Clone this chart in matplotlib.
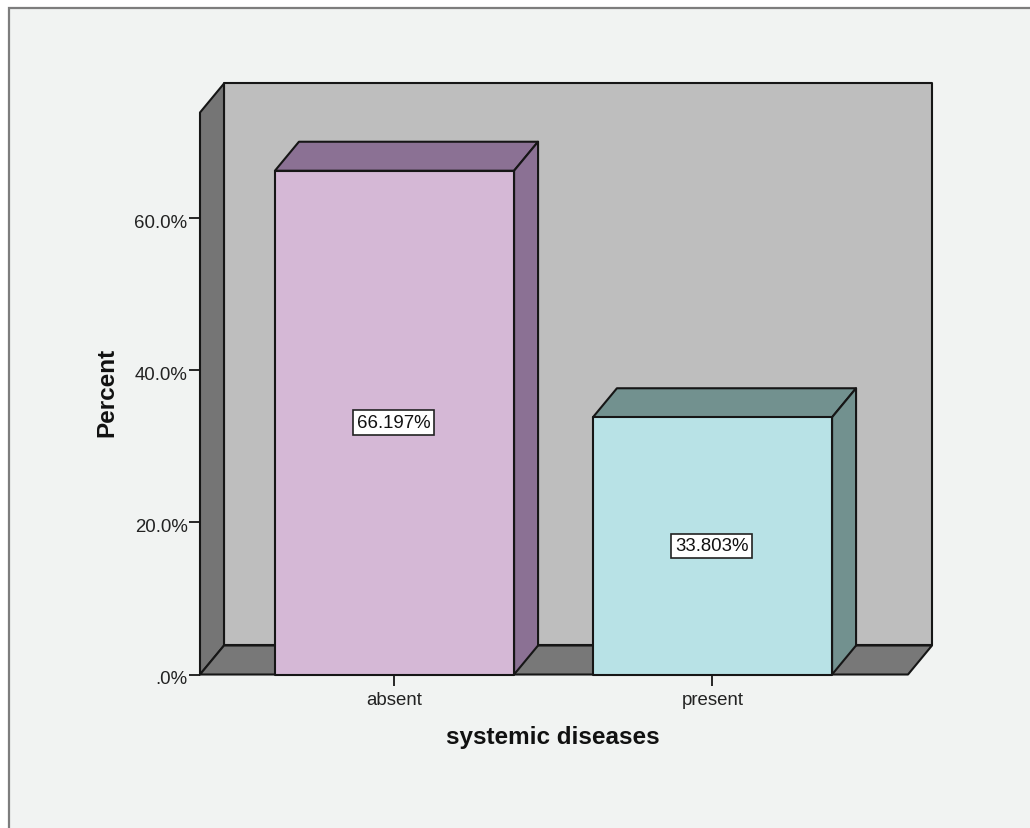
import matplotlib
matplotlib.use("Agg")
import matplotlib.pyplot as plt
from matplotlib.patches import Polygon, Rectangle
from matplotlib.transforms import ScaledTranslation

categories = ["absent", "present"]
percents = [66.197, 33.803]
front_colors = ["#d5b8d6", "#b8e2e6"]
top_colors = ["#8b7194", "#72918f"]
y_ticks = [0, 20, 40, 60]
y_tick_labels = [".0%", "20.0%", "40.0%", "60.0%"]

W, H = 1030, 829
BG = "#f1f3f2"
EDGE = "#161616"
LW = 1.5
BAR_W = 0.752

plt.rcParams["font.family"] = ["Liberation Sans", "DejaVu Sans"]

fig = plt.figure(figsize=(W / 100, H / 100), dpi=100, facecolor="white")

# chart window with its grey frame on the top and left
fig.add_artist(Rectangle((8.5 / W, -0.01), 1.1, (H - 8.5) / H + 0.01, transform=fig.transFigure,
                         facecolor=BG, edgecolor="#7d7d7d", linewidth=1.6, zorder=-1))

# axes cover the front plane of the 3D box
left, right, top, bottom = 200, 908, 113.5, 675.5
ax = fig.add_axes([left / W, 1 - bottom / H, (right - left) / W, (bottom - top) / H])
ax.patch.set_visible(False)
ax.set_xlim(-0.6116, 1.6148)
ax.set_ylim(0, 73.85)
for s in ax.spines.values():
    s.set_visible(False)

# depth of the fake 3D, in data units
dx = 24 / 318
dy = 29 / 7.61
x0, x1 = ax.get_xlim()
y1 = ax.get_ylim()[1]


def face(points, color, z):
    ax.add_patch(Polygon(points, closed=True, facecolor=color, edgecolor=EDGE,
                         linewidth=LW, joinstyle="round", clip_on=False, zorder=z))


# back wall, side wall, floor
face([(x0 + dx, dy), (x1 + dx, dy), (x1 + dx, y1 + dy), (x0 + dx, y1 + dy)], "#bebebe", 1)
face([(x0, 0), (x0 + dx, dy), (x0 + dx, y1 + dy), (x0, y1)], "#757575", 2)
face([(x0, 0), (x1, 0), (x1 + dx, dy), (x0 + dx, dy)], "#787878", 2)

for i, (p, fc, tc) in enumerate(zip(percents, front_colors, top_colors)):
    l = i - BAR_W / 2
    r = i + BAR_W / 2
    face([(l, p), (r, p), (r + dx, p + dy), (l + dx, p + dy)], tc, 3)
    face([(r, 0), (r + dx, dy), (r + dx, p + dy), (r, p)], tc, 3)
    face([(l, 0), (r, 0), (r, p), (l, p)], fc, 4)
    ax.text(i - 0.003, p / 2, f"{p:.3f}%", ha="center", va="center", fontsize=13.4, color="#111111",
            zorder=6, bbox=dict(boxstyle="square,pad=0.2", facecolor="white",
                                edgecolor="#222222", linewidth=1.2))

ax.set_xticks(range(len(categories)), categories)
ax.set_yticks(y_ticks, y_tick_labels)
ax.tick_params(axis="x", length=8, width=1.3, color=EDGE, labelsize=13.4, labelcolor="#222222", pad=4)
ax.tick_params(axis="y", length=8, width=1.3, color=EDGE, labelsize=13.4, labelcolor="#222222", pad=1)

# y tick labels sit a little under their ticks
shift = ScaledTranslation(0, -2.5 / 100, fig.dpi_scale_trans)
for label in ax.get_yticklabels():
    label.set_transform(label.get_transform() + shift)

fig.text(107 / W, 1 - 392.5 / H, "Percent", rotation=90, ha="center", va="center",
         fontsize=17.5, fontweight="bold", color="#111111")
fig.text(553 / W, 1 - 738 / H, "systemic diseases", ha="center", va="center",
         fontsize=17.5, fontweight="bold", color="#111111")

fig.savefig("out.png", dpi=100, facecolor=fig.get_facecolor())
plt.close(fig)
